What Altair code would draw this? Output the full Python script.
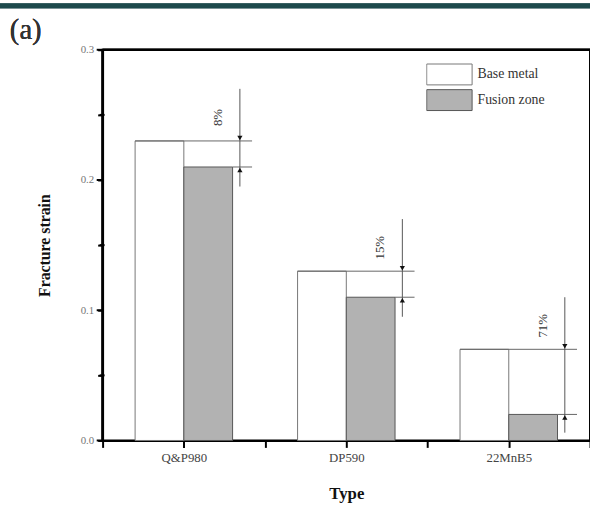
import altair as alt
import pandas as pd

types = ["Q&P980", "DP590", "22MnB5"]
base_metal = [0.23, 0.13, 0.07]
fusion_zone = [0.21, 0.11, 0.02]
reductions = ["8%", "15%", "71%"]
series_names = ["Base metal", "Fusion zone"]
y_ticks = [0.0, 0.05, 0.1, 0.15, 0.2, 0.25, 0.3]
x_ticks = [-0.5, 0, 0.5, 1, 1.5, 2, 2.5]
x_range = [-0.5, 2.5]
y_range = [0.0, 0.3]

rows = []
for i, t in enumerate(types):
    rows.append({"type": t, "idx": i, "series": series_names[0], "value": base_metal[i]})
    rows.append({"type": t, "idx": i, "series": series_names[1], "value": fusion_zone[i]})
bars_df = pd.DataFrame(rows)

ann_df = pd.DataFrame({
    "type": types,
    "idx": list(range(len(types))),
    "base": base_metal,
    "fusion": fusion_zone,
    "label": reductions,
})
ytick_df = pd.DataFrame({"v": y_ticks})

SERIF = "Liberation Serif"

label_expr = " : ".join(
    [f"datum.value == {i} ? '{t}'" for i, t in enumerate(types)]
) + " : ''"

xscale = alt.Scale(domain=x_range, nice=False, zero=False)
yscale = alt.Scale(domain=y_range, nice=False)

x_axis = alt.Axis(
    values=x_ticks, labelExpr=label_expr, title="Type",
    labelOverlap=False, labelFlush=False, grid=False,
    tickSize=7, domainColor="#000", domainWidth=2, tickColor="#000", tickWidth=2,
    labelFont=SERIF, labelFontSize=13, labelColor="#444", labelPadding=4,
    titleFont=SERIF, titleFontSize=17, titleFontWeight="bold", titleColor="#111",
    titleBaseline="alphabetic", titleY=59, titleX=247,
)
y_axis = alt.Axis(
    values=y_ticks, title="Fracture strain", grid=False,
    labelExpr="abs(datum.value*10 - round(datum.value*10)) < 0.01 ? format(datum.value, '.1f') : ''",
    tickSize=5, domainColor="#000", domainWidth=2, tickColor="#000", tickWidth=2,
    labelFont=SERIF, labelFontSize=11, labelColor="#777", labelPadding=4,
    titleFont=SERIF, titleFontSize=16, titleFontWeight="bold", titleColor="#111",
    titleX=-59, titleY=198, titleBaseline="middle",
)

legend_shape = "M-1,-0.46H1V0.46H-1Z"
legend_cfg = dict(
    title=None, orient="none", legendX=328, legendY=13,
    symbolType=legend_shape, symbolSize=2116, clipHeight=24,
    rowPadding=2, labelOffset=5, padding=0,
    labelFont=SERIF, labelFontSize=14, labelColor="#333",
    symbolStrokeWidth=1,
)

bars = alt.Chart(bars_df).transform_calculate(
    x0=f"datum.idx + (datum.series == '{series_names[0]}' ? -0.3 : 0)",
    x1=f"datum.idx + (datum.series == '{series_names[0]}' ? 0 : 0.3)",
).mark_rect(strokeWidth=1).encode(
    x=alt.X("x0:Q", scale=xscale, axis=x_axis),
    x2="x1:Q",
    y=alt.Y("value:Q", scale=yscale, axis=y_axis),
    y2=alt.datum(0),
    fill=alt.Fill("series:N", scale=alt.Scale(domain=series_names, range=["#ffffff", "#b2b2b2"]),
                  legend=alt.Legend(**legend_cfg)),
    stroke=alt.Stroke("series:N", scale=alt.Scale(domain=series_names, range=["#777777", "#555555"]),
                      legend=alt.Legend(**legend_cfg)),
)

ann = alt.Chart(ann_df).transform_calculate(
    xl="datum.idx - 0.3",
    xf="datum.idx + 0.3",
    xr="datum.idx + 0.42",
    xa="datum.idx + 0.345",
    xt="datum.idx + 0.21",
    ytop="datum.base + 0.04",
    ybot="max(datum.fusion - 0.015, 0.006)",
    ylab="datum.base + 0.018",
)

base_rule = ann.mark_rule(color="#666", strokeWidth=1).encode(
    x="xl:Q", x2="xr:Q", y="base:Q")
fus_rule = ann.mark_rule(color="#666", strokeWidth=1).encode(
    x="xf:Q", x2="xr:Q", y="fusion:Q")
arrow_line = ann.mark_rule(color="#555", strokeWidth=1).encode(
    x="xa:Q", y="ytop:Q", y2="ybot:Q")
head_down = ann.mark_point(shape="triangle-down", filled=True, color="#111", size=28, opacity=1).encode(
    x="xa:Q", y="base:Q", yOffset=alt.value(-3))
head_up = ann.mark_point(shape="triangle-up", filled=True, color="#111", size=28, opacity=1).encode(
    x="xa:Q", y="fusion:Q", yOffset=alt.value(3))
labels = ann.mark_text(angle=270, font=SERIF, fontSize=13, color="#333",
                       align="center", baseline="middle").encode(
    x="xt:Q", y="ylab:Q", text="label:N")

# frame lines (top edge and left edge of the plot)
frame_top = alt.Chart(ann_df).mark_rule(color="#000", strokeWidth=2).encode(
    x=alt.datum(x_range[0]), x2=alt.datum(x_range[1]), y=alt.datum(y_range[1]))
frame_left = alt.Chart(ann_df).mark_rule(color="#000", strokeWidth=2).encode(
    x=alt.datum(x_range[0]), y=alt.datum(y_range[0]), y2=alt.datum(y_range[1]))

# y-axis tick marks (major outward, minor short across the axis)
major_test = "abs(datum.v*10 - round(datum.v*10)) < 0.01"
ytick_major = alt.Chart(ytick_df).transform_filter(major_test).mark_rule(
    color="#000", strokeWidth=2).encode(
    y=alt.Y("v:Q"), x=alt.value(-6), x2=alt.value(0))
ytick_minor = alt.Chart(ytick_df).transform_filter("!(" + major_test + ")").mark_rule(
    color="#000", strokeWidth=2).encode(
    y=alt.Y("v:Q"), x=alt.value(-3), x2=alt.value(2))

band = alt.Chart(ann_df).mark_rect(color="#1d4a4c").encode(
    x=alt.value(-104), x2=alt.value(500), y=alt.value(-47), y2=alt.value(-42))
panel = alt.Chart(ann_df).mark_text(text="(a)", font=SERIF, fontSize=29, color="#333",
                                    align="left", baseline="alphabetic").encode(
    x=alt.value(-94), y=alt.value(-11))

chart = alt.layer(
    bars, base_rule, fus_rule, arrow_line, head_down, head_up, labels,
    frame_top, frame_left, ytick_major, ytick_minor, band, panel
).properties(
    width=494, height=396,
    background="white",
    autosize=alt.AutoSizeParams(type="none"),
    padding={"left": 104, "top": 47, "right": 0, "bottom": 66},
).configure_view(stroke="#000", strokeWidth=2).configure_axis(
    domainColor="#000", domainWidth=2, tickColor="#000", tickWidth=2,
)

chart.save("out.html", embed_options={"renderer": "svg", "actions": False})
